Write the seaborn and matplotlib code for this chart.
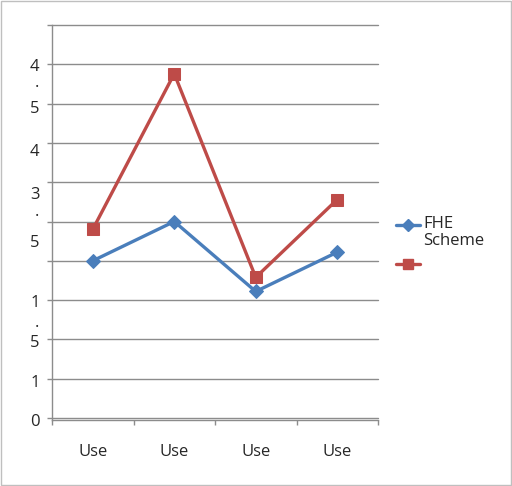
import matplotlib
matplotlib.use("Agg")
import matplotlib.pyplot as plt
import seaborn as sns
import pandas as pd
from matplotlib.lines import Line2D
from matplotlib.patches import Rectangle

# Series values, one per category
categories = ["Use", "Use", "Use", "Use"]
fhe_values = [2.0, 2.5, 1.61, 2.11]
scheme_values = [2.40, 4.38, 1.79, 2.78]

# Y gridlines
y_grid = [0, 0.5, 1, 1.5, 2, 2.5, 3, 3.5, 4, 4.5, 5]
# Y axis labels, wrapped one character per line, and where each line sits
y_label_pos = [4.494, 4.285, 3.962, 3.405, 2.861, 2.65, 2.253, 1.494, 1.234, 0.975, 0.468, -0.025]
y_label_text = ["4", ".", "5", "4", "3", ".", "5", "1", ".", "5", "1", "0"]

legend_labels = ["FHE\nScheme", ""]

blue = "#4A7EBB"
red = "#BE4B48"
grid_color = "#8C8C8C"
text_color = "#262626"

sns.set_theme(style="white")
plt.rcParams["font.family"] = ["Open Sans", "DejaVu Sans"]

fig = plt.figure(figsize=(5.12, 4.86), dpi=100)
W, H = 512, 486
ax = fig.add_axes([52 / W, 1 - 420 / H, (378 - 52) / W, (420 - 25) / H])

df = pd.DataFrame({
    "pos": list(range(len(categories))) * 2,
    "value": fhe_values + scheme_values,
    "series": ["FHE"] * len(categories) + ["Scheme"] * len(categories),
})

sns.lineplot(data=df[df.series == "FHE"], x="pos", y="value", ax=ax,
             color=blue, lw=2.4, marker="D", markersize=7,
             markeredgecolor=blue, legend=False, clip_on=False, zorder=3)
sns.lineplot(data=df[df.series == "Scheme"], x="pos", y="value", ax=ax,
             color=red, lw=2.4, marker="s", markersize=8,
             markeredgecolor=red, legend=False, clip_on=False, zorder=4)

ax.set_xlim(-0.5, len(categories) - 0.5)
ax.set_ylim(0, 5)
ax.set_xlabel("")
ax.set_ylabel("")

# Horizontal gridlines
for y in y_grid:
    ax.axhline(y, color=grid_color, lw=1, zorder=1, clip_on=False)

for side in ["top", "right"]:
    ax.spines[side].set_visible(False)
for side in ["left", "bottom"]:
    ax.spines[side].set_color(grid_color)
    ax.spines[side].set_linewidth(1)

# X axis: tick marks between categories, labels at category centres
ax.set_xticks([i - 0.5 for i in range(len(categories) + 1)])
ax.set_xticklabels([""] * (len(categories) + 1))
ax.set_xticks(range(len(categories)), minor=True)
ax.set_xticklabels(categories, minor=True)
ax.tick_params(axis="x", which="major", direction="out", length=3.6,
               width=1, color=grid_color, bottom=True)
ax.tick_params(axis="x", which="minor", length=0, pad=17,
               labelsize=12, labelcolor=text_color)

# Y axis: tick marks at gridlines, wrapped label characters as minor labels
ax.yaxis.remove_overlapping_locs = False
ax.set_yticks(y_grid)
ax.set_yticklabels([""] * len(y_grid))
ax.set_yticks(y_label_pos, minor=True)
ax.set_yticklabels(y_label_text, minor=True)
ax.tick_params(axis="y", which="major", direction="out", length=3.6,
               width=1, color=grid_color, left=True)
ax.tick_params(axis="y", which="minor", length=0, pad=9,
               labelsize=12, labelcolor=text_color)


# Legend
def fx(px):
    return px / W


def fy(py):
    return 1 - py / H


fig.add_artist(Line2D([fx(396), fx(420)], [fy(225), fy(225)], color=blue, lw=2.4))
fig.add_artist(Line2D([fx(408)], [fy(225)], color=blue, marker="D",
                      markersize=6, lw=0))
fig.add_artist(Line2D([fx(396), fx(420)], [fy(264), fy(264)], color=red, lw=2.4))
fig.add_artist(Line2D([fx(408)], [fy(264)], color=red, marker="s",
                      markersize=6.5, lw=0))
fig.text(fx(423), fy(216), legend_labels[0], fontsize=12, color=text_color,
         va="top", ha="left", linespacing=1.05)
fig.text(fx(423), fy(264), legend_labels[1], fontsize=12, va="center")

# Chart border
fig.add_artist(Rectangle((0.002, 0.002), 0.996, 0.996, transform=fig.transFigure,
                         fill=False, edgecolor="#BFBFBF", lw=1))

fig.savefig("out.png", dpi=100)
